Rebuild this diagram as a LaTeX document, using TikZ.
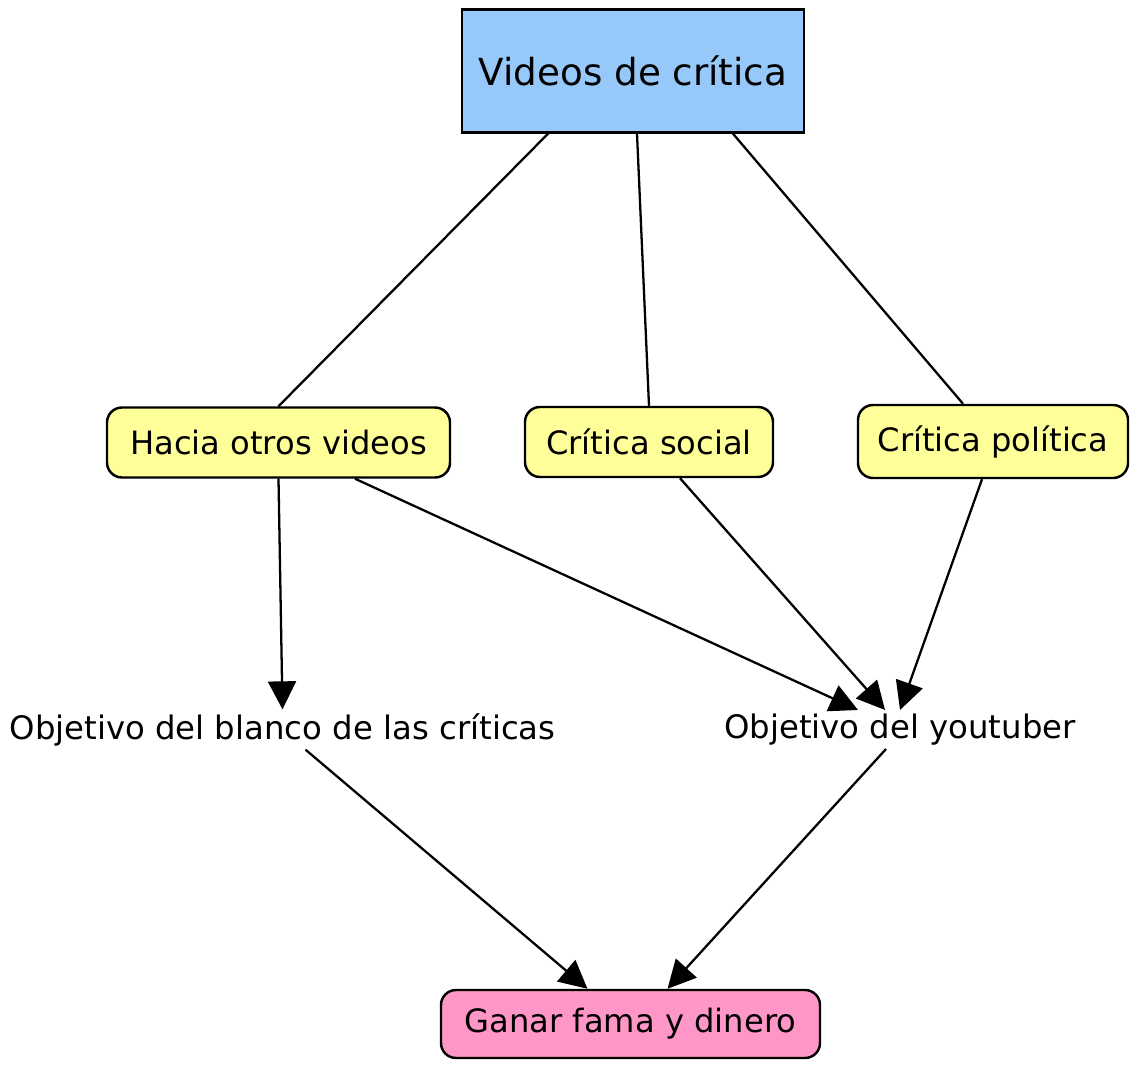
\documentclass[tikz,border=0pt]{standalone}
\usepackage{fontspec}
\setmainfont{DejaVu Sans}
\usetikzlibrary{arrows.meta, positioning}
\definecolor{topblue}{RGB}{150,200,250}
\definecolor{subyellow}{RGB}{255,255,153}
\definecolor{goalpink}{RGB}{255,150,200}

\tikzset{
  topbox/.style={draw, line width=1.4pt, fill=topblue, minimum width=6.84cm, minimum height=2.46cm, font=\fontsize{21.2}{25}\selectfont},
  subbox/.style={draw, line width=1.4pt, rounded corners=0.3cm, fill=subyellow, minimum height=1.4cm, font=\fontsize{18.3}{22}\selectfont},
  goalbox/.style={draw, line width=1.4pt, rounded corners=0.3cm, fill=goalpink, minimum height=1.36cm, font=\fontsize{18.3}{22}\selectfont},
  plaintext/.style={inner sep=2pt, font=\fontsize{18.4}{22}\selectfont},
  link/.style={line width=1.3pt},
  arr/.style={line width=1.3pt, -{Triangle[length=0.56cm, width=0.56cm]}}
}

\begin{document}
\begin{tikzpicture}
        \useasboundingbox (0,0) rectangle (22.6,21.32);
        \node[topbox] at (12.66,19.90) (videos) {Videos de crítica};
        \node[subbox, minimum width=6.86cm] at (5.57,12.47) (hacia) {Hacia otros videos};
        \node[subbox, minimum width=4.96cm] at (12.98,12.48) (social) {Crítica social};
        \node[subbox, minimum width=5.40cm, minimum height=1.46cm] at (19.86,12.49) (politica) {Crítica política};
        \node[plaintext] at (5.65,6.73) (blanco) {Objetivo del blanco de las críticas};
        \node[plaintext] at (18.0,6.73) (youtuber) {Objetivo del youtuber};
        \node[goalbox, minimum width=7.58cm] at (12.61,0.84) (ganar) {Ganar fama y dinero};

        % plain lines from the top box
        \draw[link] ([xshift=-1.7cm]videos.south) -- (hacia.north);
        \draw[link] ([xshift=0.08cm]videos.south) -- (social.north);
        \draw[link] ([xshift=2cm]videos.south) -- ([xshift=-0.6cm]politica.north);

        % arrows to the goals
        \draw[arr] (hacia.south) -- (blanco.north);
        \draw[arr] ([xshift=1.53cm]hacia.south) -- ([xshift=-0.84cm]youtuber.north);
        \draw[arr] ([xshift=0.62cm]social.south) -- ([xshift=-0.3cm]youtuber.north);
        \draw[arr] ([xshift=-0.22cm]politica.south) -- (youtuber.north);
        \draw[arr] ([xshift=0.46cm]blanco.south) -- ([xshift=-0.86cm]ganar.north);
        \draw[arr] ([xshift=-0.28cm]youtuber.south) -- ([xshift=0.74cm]ganar.north);
    \end{tikzpicture}
\end{document}
